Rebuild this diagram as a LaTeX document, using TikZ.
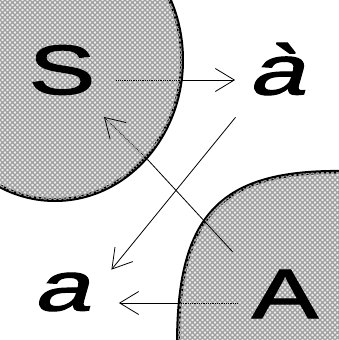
\documentclass[tikz,border=0pt]{standalone}
\usepackage{fontspec}
\newfontfamily\lblfont[FakeBold=1.6]{Liberation Sans}
\usetikzlibrary{arrows.meta,patterns}
\pgfdeclarepatternformonly{diamonds}{\pgfqpoint{-1pt}{-1pt}}{\pgfqpoint{6pt}{6pt}}{\pgfqpoint{5pt}{5pt}}{%
  \pgfsetlinewidth{1.1pt}%
  \pgfpathmoveto{\pgfqpoint{0pt}{0pt}}\pgfpathlineto{\pgfqpoint{5pt}{5pt}}%
  \pgfpathmoveto{\pgfqpoint{0pt}{5pt}}\pgfpathlineto{\pgfqpoint{5pt}{0pt}}%
  \pgfusepath{stroke}}

\begin{document}
\begin{tikzpicture}[x=1pt,y=-1pt,
  blob/.style={draw=black,line width=4pt,fill=gray!15,postaction={pattern=diamonds,pattern color=gray!75}},
  ltr/.style={inner sep=0pt,font=\fontsize{70}{70}\lblfont,xscale=1.42,transform shape},
  slt/.style={ltr,xslant=0.2},
  arr/.style={-{Straight Barb[length=19pt,width=23pt]},line width=0.8pt},
  hid/.style={line width=0.8pt,densely dotted}]
\useasboundingbox (0,0) rectangle (339,340);
\begin{scope}
\clip (0,0) rectangle (339,340);
\draw[blob] (55,60) ellipse [x radius=127,y radius=140];
\draw[blob] (178,345) .. controls (178,215) and (220,170) .. (345,172) -- (345,345) -- cycle;
\end{scope}
\node[ltr] (S) at (62,70) {S};
\node[slt] (agrave) at (283,69) {à};
\node[slt] (a) at (66,292) {a};
\node[ltr] (A) at (285,294) {A};
\coordinate (sedge) at (181,80);
\coordinate (sedge2) at (148,160);
\coordinate (aedge) at (180,303);
\draw[hid] ([shift={(21,10)}]S.east) -- (sedge); \draw[arr] (sedge) -- ([shift={(-20,11)}]agrave.west);
\draw[arr] ([shift={(-40,22)}]agrave.south) -- ([shift={(12,-3)}]a.north east);
\draw[hid] ([shift={(-14,9)}]A.west) -- (aedge); \draw[arr] (aedge) -- ([shift={(25,11)}]a.east);
\draw[line width=0.8pt] ([shift={(-19,-18)}]A.north west) -- (sedge2);
\draw[hid,-{Straight Barb[length=19pt,width=23pt]}] (sedge2) -- ([shift={(42,22)}]S.south);
\end{tikzpicture}
\end{document}
